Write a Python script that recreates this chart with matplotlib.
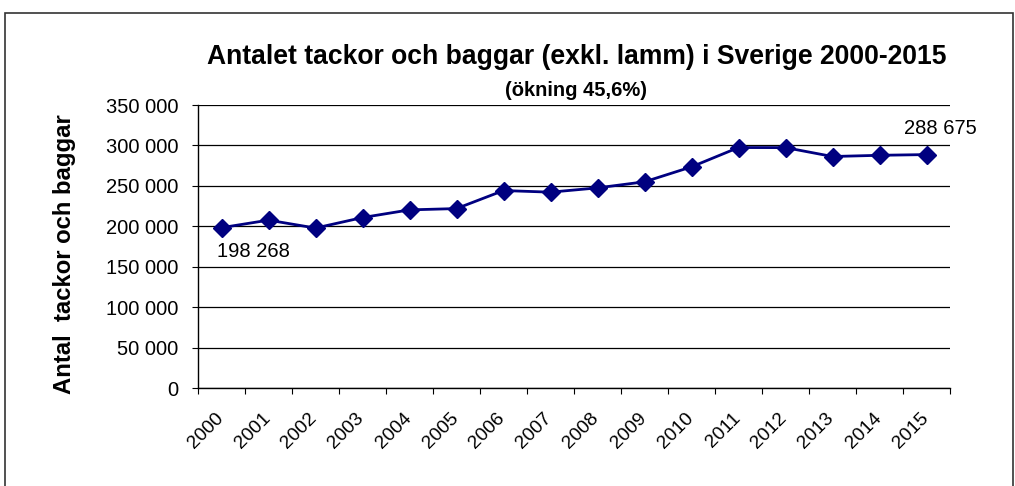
import numpy as np
import matplotlib.pyplot as plt
import matplotlib.transforms as mtransforms
from matplotlib.patches import Rectangle
from matplotlib.ticker import FuncFormatter

plt.rcParams['font.family'] = ['Liberation Sans', 'DejaVu Sans']

years = [str(y) for y in range(2000, 2016)]
sheep = [198268, 207600, 197800, 210800, 220300, 221900, 244200, 242200,
         247500, 255000, 273500, 297400, 297300, 286300, 287800, 288675]
first_label = "198 268"
last_label = "288 675"

fig = plt.figure(figsize=(10.15, 4.86), dpi=100)
fig.patches.append(Rectangle((5 / 1015, -0.1), 1008 / 1015, 1.1 - 13 / 486,
                             transform=fig.transFigure, fill=False,
                             edgecolor='#333333', linewidth=1.2))

ax = fig.add_axes([198 / 1015, 1 - 388 / 486, 752 / 1015, 283 / 486])
x = np.arange(len(years))
ax.plot(x, sheep, color='#000080', linewidth=2, marker='D', markersize=9.5)

ax.set_xlim(-0.5, len(years) - 0.5)
ax.set_ylim(0, 350000)
ax.set_yticks(np.arange(0, 350001, 50000))
ax.yaxis.set_major_formatter(FuncFormatter(lambda v, p: f"{int(v):,}".replace(",", " ")))
ax.grid(axis='y', color='black', linewidth=0.9)
ax.set_axisbelow(True)

ax.set_xticks(np.arange(-0.5, len(years)), labels=[])
ax.set_xticks(x, labels=years, minor=True)
ax.tick_params(axis='x', which='minor', length=0, labelsize=13.8, pad=15.5)
ax.tick_params(axis='x', which='major', length=4, direction='out', color='black')
shift = mtransforms.ScaledTranslation(-7 / 100, 0, fig.dpi_scale_trans)
for lbl in ax.get_xticklabels(minor=True):
    lbl.set_rotation(45)
    lbl.set_ha('right')
    lbl.set_rotation_mode('anchor')
    lbl.set_transform(lbl.get_transform() + shift)
ax.tick_params(axis='y', length=4, labelsize=14.5, direction='out', pad=10)

for s in ['top', 'right']:
    ax.spines[s].set_visible(False)
ax.spines['left'].set_linewidth(1)
ax.spines['bottom'].set_linewidth(1)

ax.annotate(first_label, (x[0], sheep[0]), xytext=(-3.5, -10.5), textcoords='offset points',
            ha='left', va='top', fontsize=14.5)
ax.annotate(last_label, (x[-1], sheep[-1]), xytext=(-16, 12), textcoords='offset points',
            ha='left', va='bottom', fontsize=14.5)

fig.text(65 / 1015, 1 - 254 / 486, "Antal  tackor och baggar", rotation=90,
         ha='center', va='center', fontsize=17.2, fontweight='bold')
fig.text(577 / 1015, 1 - 57 / 486, "Antalet tackor och baggar (exkl. lamm) i Sverige 2000-2015",
         ha='center', va='center', fontsize=19.1, fontweight='bold')
fig.text(576 / 1015, 1 - 90 / 486, "(ökning 45,6%)", ha='center', va='center',
         fontsize=14.5, fontweight='bold')

fig.savefig("out.png", dpi=100)
